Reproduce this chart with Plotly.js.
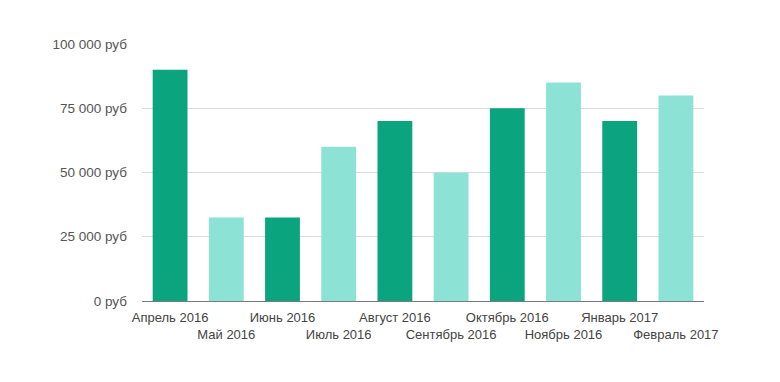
<!DOCTYPE html>
<html><head><meta charset="utf-8">
<script src="https://cdn.plot.ly/plotly-3.0.1.min.js"></script>
<style>html,body{margin:0;padding:0;background:#fff}#c{width:780px;height:382px}</style>
</head><body><div id="c"></div>
<script>
const months = ["Апрель 2016","Май 2016","Июнь 2016","Июль 2016","Август 2016","Сентябрь 2016","Октябрь 2016","Ноябрь 2016","Январь 2017","Февраль 2017"];
const revenue = [90000,32500,32500,60000,70000,50000,75000,85000,70000,80000];
const yTickValues = [0,25000,50000,75000,100000];
const yTickLabels = ["0 руб","25 000 руб","50 000 руб","75 000 руб","100 000 руб"];

const DARK = "#0aa57f", LIGHT = "#8de2d6";
const colors = months.map((m,i)=> i%2===0 ? DARK : LIGHT);
const tickText = months.map((m,i)=> i%2===0 ? m : "<br>"+m);

Plotly.newPlot("c", [{
  type: "bar",
  x: months,
  y: revenue,
  marker: {color: colors, line: {width: 0}},
  hoverinfo: "none"
}], {
  width: 780, height: 382,
  margin: {l: 142, r: 76, t: 44, b: 81},
  paper_bgcolor: "#fff", plot_bgcolor: "#fff",
  font: {family: "Liberation Sans, Arial, sans-serif", size: 13, color: "#444"},
  bargap: 0.38,
  showlegend: false,
  xaxis: {
    type: "category",
    tickmode: "array", tickvals: months, ticktext: tickText,
    tickangle: 0,
    showgrid: false, zeroline: false,
    showline: true, linecolor: "#7a7a7a", linewidth: 1,
    ticks: "", ticklen: 0, ticklabelstandoff: 4,
    tickfont: {size: 13, color: "#444"},
    automargin: false
  },
  yaxis: {
    range: [0, 100000],
    tickmode: "array", tickvals: yTickValues, ticktext: yTickLabels,
    showgrid: true, gridcolor: "#dcdcdc", gridwidth: 1,
    zeroline: false, showline: false,
    ticks: "", ticklabelstandoff: 14,
    tickfont: {size: 13.5, color: "#555"},
    automargin: false
  }
}, {staticPlot: true, displayModeBar: false});
</script></body></html>
